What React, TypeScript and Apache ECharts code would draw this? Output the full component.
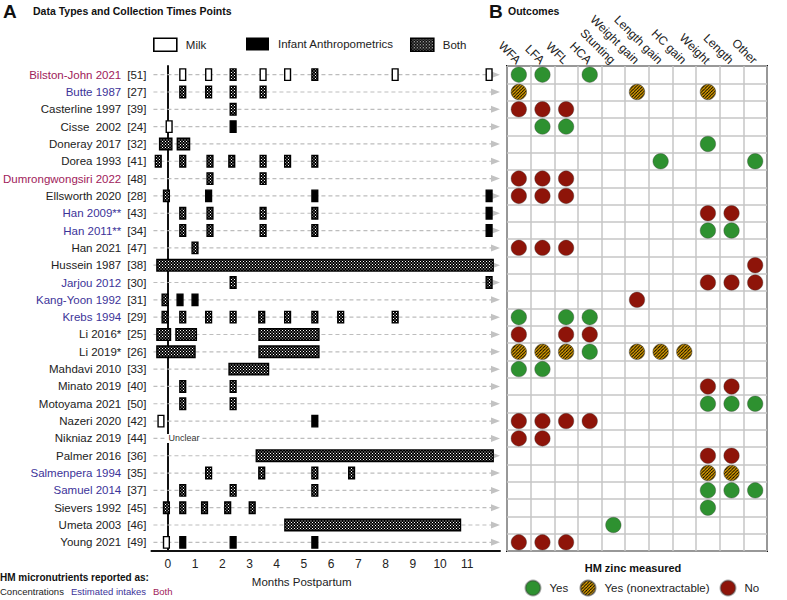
import React, { useEffect, useRef } from 'react';
import * as echarts from 'echarts';

const FONT = "'Liberation Sans', Arial, Helvetica, sans-serif";

const studies = ['Bilston-John 2021', 'Butte 1987', 'Casterline 1997', 'Cisse  2002', 'Doneray 2017', 'Dorea 1993', 'Dumrongwongsiri 2022', 'Ellsworth 2020', 'Han 2009**', 'Han 2011**', 'Han 2021', 'Hussein 1987', 'Jarjou 2012', 'Kang-Yoon 1992', 'Krebs 1994', 'Li 2016*', 'Li 2019*', 'Mahdavi 2010', 'Minato 2019', 'Motoyama 2021', 'Nazeri 2020', 'Nikniaz 2019', 'Palmer 2016', 'Salmenpera 1994', 'Samuel 2014', 'Sievers 1992', 'Umeta 2003', 'Young 2021'];
const refs = [51, 27, 39, 24, 32, 41, 48, 28, 43, 34, 47, 38, 30, 31, 29, 25, 26, 33, 40, 50, 42, 44, 36, 35, 37, 45, 46, 49];
const reportedAs = ['both', 'intake', 'conc', 'conc', 'conc', 'conc', 'both', 'conc', 'intake', 'intake', 'conc', 'conc', 'intake', 'intake', 'intake', 'conc', 'conc', 'conc', 'conc', 'conc', 'conc', 'conc', 'conc', 'intake', 'intake', 'conc', 'conc', 'conc'];

const monthTicks = [0, 1, 2, 3, 4, 5, 6, 7, 8, 9, 10, 11];

// collection time points (months postpartum)
const milkPoints: [string, number[]][] = [
  ['Bilston-John 2021', [0.55, 1.5, 3.5, 4.4, 8.35, 11.8]],
  ['Cisse  2002', [0.05]],
  ['Nazeri 2020', [-0.25]],
  ['Young 2021', [-0.05]],
];
const anthroPoints: [string, number[]][] = [
  ['Cisse  2002', [2.4]],
  ['Ellsworth 2020', [1.5, 5.4, 11.8]],
  ['Han 2009**', [11.8]],
  ['Han 2011**', [11.8]],
  ['Kang-Yoon 1992', [0.45, 1.0]],
  ['Nazeri 2020', [5.4]],
  ['Young 2021', [0.55, 2.4, 5.4]],
];
const bothPoints: [string, number[]][] = [
  ['Bilston-John 2021', [2.4, 5.4]],
  ['Butte 1987', [0.55, 1.5, 2.4, 3.5]],
  ['Casterline 1997', [2.4]],
  ['Dorea 1993', [-0.35, 0.55, 1.55, 2.35, 3.5, 4.4, 5.4]],
  ['Dumrongwongsiri 2022', [1.55, 3.5]],
  ['Ellsworth 2020', [-0.05]],
  ['Han 2009**', [0.55, 1.55, 3.5, 5.4]],
  ['Han 2011**', [0.55, 1.55, 3.5, 5.4]],
  ['Han 2021', [1.0]],
  ['Jarjou 2012', [2.4, 11.8]],
  ['Kang-Yoon 1992', [-0.1]],
  ['Krebs 1994', [-0.1, 0.55, 1.5, 2.4, 3.45, 4.4, 5.4, 6.35, 8.35]],
  ['Minato 2019', [0.55, 2.4]],
  ['Motoyama 2021', [0.55, 2.4]],
  ['Salmenpera 1994', [1.5, 3.45, 5.4, 6.75]],
  ['Samuel 2014', [0.55, 2.4, 5.4]],
  ['Sievers 1992', [-0.05, 0.55, 1.35, 2.2, 3.1]],
];
const bothRanges: [string, number, number][] = [
  ['Doneray 2017', -0.3, 0.15],
  ['Doneray 2017', 0.35, 0.8],
  ['Hussein 1987', -0.4, 11.95],
  ['Li 2016*', -0.4, 0.1],
  ['Li 2016*', 0.3, 1.05],
  ['Li 2016*', 3.35, 5.55],
  ['Li 2019*', -0.4, 1.0],
  ['Li 2019*', 3.35, 5.55],
  ['Mahdavi 2010', 2.25, 3.7],
  ['Palmer 2016', 3.25, 11.95],
  ['Umeta 2003', 4.3, 10.75],
];
const notes = [{ study: 'Nikniaz 2019', month: -0.05, text: 'Unclear' }];

const outcomeCols = ['WFA', 'LFA', 'WFL', 'HCA', 'Stunting', 'Weight gain', 'Length gain', 'HC gain', 'Weight', 'Length', 'Other'];

const zincYes: [string, string[]][] = [
  ['Bilston-John 2021', ['WFA', 'LFA', 'HCA']],
  ['Cisse  2002', ['LFA', 'WFL']],
  ['Doneray 2017', ['Weight']],
  ['Dorea 1993', ['Length gain', 'Other']],
  ['Han 2011**', ['Weight', 'Length']],
  ['Krebs 1994', ['WFA', 'WFL', 'HCA']],
  ['Li 2019*', ['HCA']],
  ['Mahdavi 2010', ['WFA', 'LFA']],
  ['Motoyama 2021', ['Weight', 'Length', 'Other']],
  ['Samuel 2014', ['Weight', 'Length', 'Other']],
  ['Sievers 1992', ['Weight']],
  ['Umeta 2003', ['Stunting']],
];
const zincNonextractable: [string, string[]][] = [
  ['Butte 1987', ['WFA', 'Weight gain', 'Weight']],
  ['Li 2019*', ['WFA', 'LFA', 'WFL', 'Weight gain', 'Length gain', 'HC gain']],
  ['Salmenpera 1994', ['Weight', 'Length']],
];
const zincNo: [string, string[]][] = [
  ['Casterline 1997', ['WFA', 'LFA', 'WFL']],
  ['Dumrongwongsiri 2022', ['WFA', 'LFA', 'WFL']],
  ['Ellsworth 2020', ['WFA', 'LFA', 'WFL']],
  ['Han 2009**', ['Weight', 'Length']],
  ['Han 2021', ['WFA', 'LFA', 'WFL']],
  ['Hussein 1987', ['Other']],
  ['Jarjou 2012', ['Weight', 'Length', 'Other']],
  ['Kang-Yoon 1992', ['Weight gain']],
  ['Li 2016*', ['WFA', 'WFL', 'HCA']],
  ['Minato 2019', ['Weight', 'Length']],
  ['Nazeri 2020', ['WFA', 'LFA', 'WFL', 'HCA']],
  ['Nikniaz 2019', ['WFA', 'LFA']],
  ['Palmer 2016', ['Weight', 'Length']],
  ['Young 2021', ['WFA', 'LFA', 'WFL']],
];

const COLORS = {
  conc: '#222222',
  intake: '#3c3399',
  both: '#a0215a',
  green: '#2e9130',
  red: '#8e1409',
  gold: '#e3a400',
  grid: '#c6c6c6',
};

const DOT = 15.5;

function pointData(list: [string, number[]][]) {
  const out: number[][] = [];
  list.forEach(([s, ms]) => ms.forEach((m) => out.push([m, m, studies.indexOf(s)])));
  return out;
}
function rangeData(list: [string, number, number][]) {
  return list.map(([s, a, b]) => [a, b, studies.indexOf(s)]);
}
function outcomeData(list: [string, string[]][]) {
  const out: string[][] = [];
  list.forEach(([s, cols]) => cols.forEach((c) => out.push([c, s])));
  return out;
}

function makeChecker() {
  const c = document.createElement('canvas');
  c.width = 6;
  c.height = 6;
  const g = c.getContext('2d')!;
  g.fillStyle = '#000';
  g.fillRect(0, 0, 6, 6);
  g.fillStyle = '#fff';
  g.fillRect(0, 0, 2, 2);
  g.fillRect(3, 3, 2, 2);
  return { image: c, repeat: 'repeat', scaleX: 0.5, scaleY: 0.5 };
}
function makeHatchCanvas() {
  const c = document.createElement('canvas');
  c.width = 8;
  c.height = 8;
  const g = c.getContext('2d')!;
  g.fillStyle = COLORS.gold;
  g.fillRect(0, 0, 8, 8);
  g.strokeStyle = '#000';
  g.lineWidth = 2.4;
  [-8, 0, 8].forEach((k) => {
    g.beginPath();
    g.moveTo(k, 8);
    g.lineTo(k + 8, 0);
    g.stroke();
  });
  return c;
}

function buildOption() {
  const checker = makeChecker();
  const hatchCanvas = makeHatchCanvas();
  const HS = 0.4;
  // legend icons are drawn at real size; scatter symbols are unit paths scaled by DOT / 2
  const hatchLegend = { image: hatchCanvas, repeat: 'repeat', scaleX: HS, scaleY: HS };
  const hatchSymbol = { image: hatchCanvas, repeat: 'repeat', scaleX: HS / (DOT / 2), scaleY: HS / (DOT / 2) };

  const markRender = (fill: any) => (params: any, api: any) => {
    const s = api.value(0);
    const e = api.value(1);
    const r = api.value(2);
    const p0 = api.coord([s, r]);
    const p1 = api.coord([e, r]);
    const h = 11.5;
    let x = p0[0];
    let w = p1[0] - p0[0];
    if (w < 5.8) {
      x = (p0[0] + p1[0]) / 2 - 2.9;
      w = 5.8;
    }
    return {
      type: 'rect',
      shape: { x, y: p0[1] - h / 2, width: w, height: h },
      style: { fill, stroke: '#000', lineWidth: 1.4 },
    };
  };

  const rowRender = (params: any, api: any) => {
    const y = api.coord([0, api.value(1)])[1];
    const cs = params.coordSys;
    const xEnd = cs.x + cs.width;
    return {
      type: 'group',
      children: [
        { type: 'line', shape: { x1: cs.x + 2, y1: y, x2: xEnd - 8, y2: y }, style: { stroke: '#bdbdbd', lineWidth: 1.2, lineDash: [4, 3] } },
        { type: 'polygon', shape: { points: [[xEnd - 9, y - 3.5], [xEnd, y], [xEnd - 9, y + 3.5]] }, style: { fill: '#c2c2c2' } },
      ],
    };
  };

  const noteRender = (params: any, api: any) => {
    const p = api.coord([api.value(0), api.value(1)]);
    return {
      type: 'text',
      x: p[0],
      y: p[1],
      style: {
        text: notes[params.dataIndex].text,
        fill: '#333',
        font: '9px ' + FONT,
        align: 'left',
        verticalAlign: 'middle',
        backgroundColor: '#fff',
        padding: [0, 2],
      },
    };
  };

  const yRich: any = {
    conc: { color: COLORS.conc, fontSize: 11.5, fontFamily: FONT },
    intake: { color: COLORS.intake, fontSize: 11.5, fontFamily: FONT },
    both: { color: COLORS.both, fontSize: 11.5, fontFamily: FONT },
    r: { color: '#222', fontSize: 11.5, fontFamily: FONT, padding: [0, 0, 0, 6] },
  };

  const scatterBase = {
    type: 'scatter',
    xAxisIndex: 1,
    yAxisIndex: 1,
    symbol: 'circle',
    symbolSize: DOT,
    z: 5,
  };

  const legendBase = {
    orient: 'horizontal',
    selectedMode: false,
    padding: 0,
    textStyle: { fontSize: 11.5, color: '#222', fontFamily: FONT, padding: [0, 0, 0, 4] },
  };

  return {
    animation: false,
    backgroundColor: '#fff',
    textStyle: { fontFamily: FONT },
    grid: [
      { left: 148, right: 287, top: 66, bottom: 49 },
      { left: 507, right: 20, top: 66, bottom: 49, show: true, borderColor: '#111', borderWidth: 2, backgroundColor: '#fff' },
    ],
    xAxis: [
      {
        gridIndex: 0,
        type: 'value',
        min: -0.6,
        max: 12.2,
        axisLine: { show: true, lineStyle: { color: '#111', width: 2 } },
        axisTick: { show: false },
        splitLine: { show: false },
        axisLabel: { customValues: monthTicks, color: '#222', fontSize: 12, margin: 7 },
        name: 'Months Postpartum',
        nameLocation: 'middle',
        nameGap: 25,
        nameTextStyle: { fontSize: 11.5, color: '#222', padding: [0, 48, 0, 0] },
      },
      {
        gridIndex: 1,
        type: 'category',
        position: 'top',
        data: outcomeCols,
        axisLine: { show: false },
        axisTick: { show: false, interval: 0 },
        axisLabel: { interval: 0, rotate: 45, fontSize: 12, color: '#222', margin: 4 },
        splitLine: { show: true, interval: 0, lineStyle: { color: COLORS.grid, width: 1.5 } },
      },
    ],
    yAxis: [
      {
        gridIndex: 0,
        type: 'category',
        inverse: true,
        data: studies,
        axisLine: { show: true, lineStyle: { color: '#111', width: 2 } },
        axisTick: { show: false },
        splitLine: { show: false },
        axisLabel: {
          interval: 0,
          margin: 5,
          formatter: (v: string, i: number) => `{${reportedAs[i]}|${v}}{r|[${refs[i]}]}`,
          rich: yRich,
        },
      },
      {
        gridIndex: 1,
        type: 'category',
        inverse: true,
        data: studies,
        axisLine: { show: false },
        axisTick: { show: false, interval: 0 },
        axisLabel: { show: false },
        splitLine: { show: true, interval: 0, lineStyle: { color: COLORS.grid, width: 1.5 } },
      },
    ],
    legend: [
      { ...legendBase, data: ['Milk'], left: 153, top: 37.5, icon: 'rect', itemWidth: 23, itemHeight: 13, itemStyle: { borderColor: '#000', borderWidth: 1.6 } },
      { ...legendBase, data: ['Infant Anthropometrics'], left: 246, top: 37.5, icon: 'rect', itemWidth: 23, itemHeight: 13 },
      { ...legendBase, data: ['Both'], left: 410, top: 37.5, icon: 'rect', itemWidth: 23, itemHeight: 13, itemStyle: { borderColor: '#000', borderWidth: 1.6 } },
      { ...legendBase, data: ['Yes'], left: 524.5, top: 579.5, icon: 'circle', itemWidth: 15, itemHeight: 15, itemStyle: { opacity: 1 } },
      { ...legendBase, data: ['Yes (nonextractable)'], left: 579.5, top: 579.5, icon: 'circle', itemWidth: 15, itemHeight: 15, itemStyle: { color: hatchLegend, opacity: 1 } },
      { ...legendBase, data: ['No'], left: 719.5, top: 579.5, icon: 'circle', itemWidth: 15, itemHeight: 15, itemStyle: { opacity: 1 } },
    ],
    graphic: [
      { type: 'text', left: 3, top: 2, style: { text: 'A', font: 'bold 19px ' + FONT, fill: '#111' } },
      { type: 'text', left: 33, top: 5, style: { text: 'Data Types and Collection Times Points', font: 'bold 10.5px ' + FONT, fill: '#111' } },
      { type: 'text', left: 489, top: 2, style: { text: 'B', font: 'bold 19px ' + FONT, fill: '#111' } },
      { type: 'text', left: 508, top: 5, style: { text: 'Outcomes', font: 'bold 10.5px ' + FONT, fill: '#111' } },
      { type: 'text', x: 633, y: 568, style: { text: 'HM zinc measured', font: 'bold 11px ' + FONT, fill: '#111', align: 'center', verticalAlign: 'middle' } },
      { type: 'text', x: 0, y: 577, style: { text: 'HM micronutrients reported as:', font: 'bold 10px ' + FONT, fill: '#111', verticalAlign: 'middle' } },
      { type: 'text', x: 0, y: 591, style: { text: 'Concentrations', font: '9.5px ' + FONT, fill: COLORS.conc, verticalAlign: 'middle' } },
      { type: 'text', x: 71, y: 591, style: { text: 'Estimated intakes', font: '9.5px ' + FONT, fill: COLORS.intake, verticalAlign: 'middle' } },
      { type: 'text', x: 153, y: 591, style: { text: 'Both', font: '9.5px ' + FONT, fill: COLORS.both, verticalAlign: 'middle' } },
    ],
    series: [
      {
        name: 'rows',
        type: 'custom',
        xAxisIndex: 0,
        yAxisIndex: 0,
        silent: true,
        z: 1,
        encode: { x: 0, y: 1 },
        data: studies.map((_, i) => [0, i]),
        renderItem: rowRender,
      },
      {
        name: 'notes',
        type: 'custom',
        xAxisIndex: 0,
        yAxisIndex: 0,
        silent: true,
        z: 2,
        encode: { x: 0, y: 1 },
        data: notes.map((n) => [n.month, studies.indexOf(n.study)]),
        renderItem: noteRender,
      },
      {
        name: 'Milk',
        type: 'custom',
        xAxisIndex: 0,
        yAxisIndex: 0,
        z: 3,
        itemStyle: { color: '#fff', borderColor: '#000', borderWidth: 1.6 },
        encode: { x: [0, 1], y: 2 },
        data: pointData(milkPoints),
        renderItem: markRender('#fff'),
      },
      {
        name: 'Infant Anthropometrics',
        type: 'custom',
        xAxisIndex: 0,
        yAxisIndex: 0,
        z: 3,
        itemStyle: { color: '#000' },
        encode: { x: [0, 1], y: 2 },
        data: pointData(anthroPoints),
        renderItem: markRender('#000'),
      },
      {
        name: 'Both',
        type: 'custom',
        xAxisIndex: 0,
        yAxisIndex: 0,
        z: 3,
        itemStyle: { color: checker, borderColor: '#000', borderWidth: 1.6 },
        encode: { x: [0, 1], y: 2 },
        data: [...pointData(bothPoints), ...rangeData(bothRanges)],
        renderItem: markRender(checker),
      },
      {
        ...scatterBase,
        name: 'Yes',
        itemStyle: { color: COLORS.green, opacity: 1, borderColor: 'rgba(60,60,60,0.45)', borderWidth: 0.8 },
        data: outcomeData(zincYes),
      },
      {
        ...scatterBase,
        name: 'Yes (nonextractable)',
        itemStyle: { color: hatchSymbol, opacity: 1, borderColor: 'rgba(60,60,60,0.6)', borderWidth: 0.8 },
        data: outcomeData(zincNonextractable),
      },
      {
        ...scatterBase,
        name: 'No',
        itemStyle: { color: COLORS.red, opacity: 1, borderColor: 'rgba(60,60,60,0.45)', borderWidth: 0.8 },
        data: outcomeData(zincNo),
      },
    ],
  };
}

export default function App() {
  const ref = useRef<HTMLDivElement>(null);
  useEffect(() => {
    if (!ref.current) return;
    const chart = echarts.init(ref.current, undefined, { renderer: 'svg' });
    chart.setOption(buildOption() as any);
    return () => chart.dispose();
  }, []);
  return <div ref={ref} style={{ position: 'absolute', left: 0, top: 0, width: 787, height: 600 }} />;
}
